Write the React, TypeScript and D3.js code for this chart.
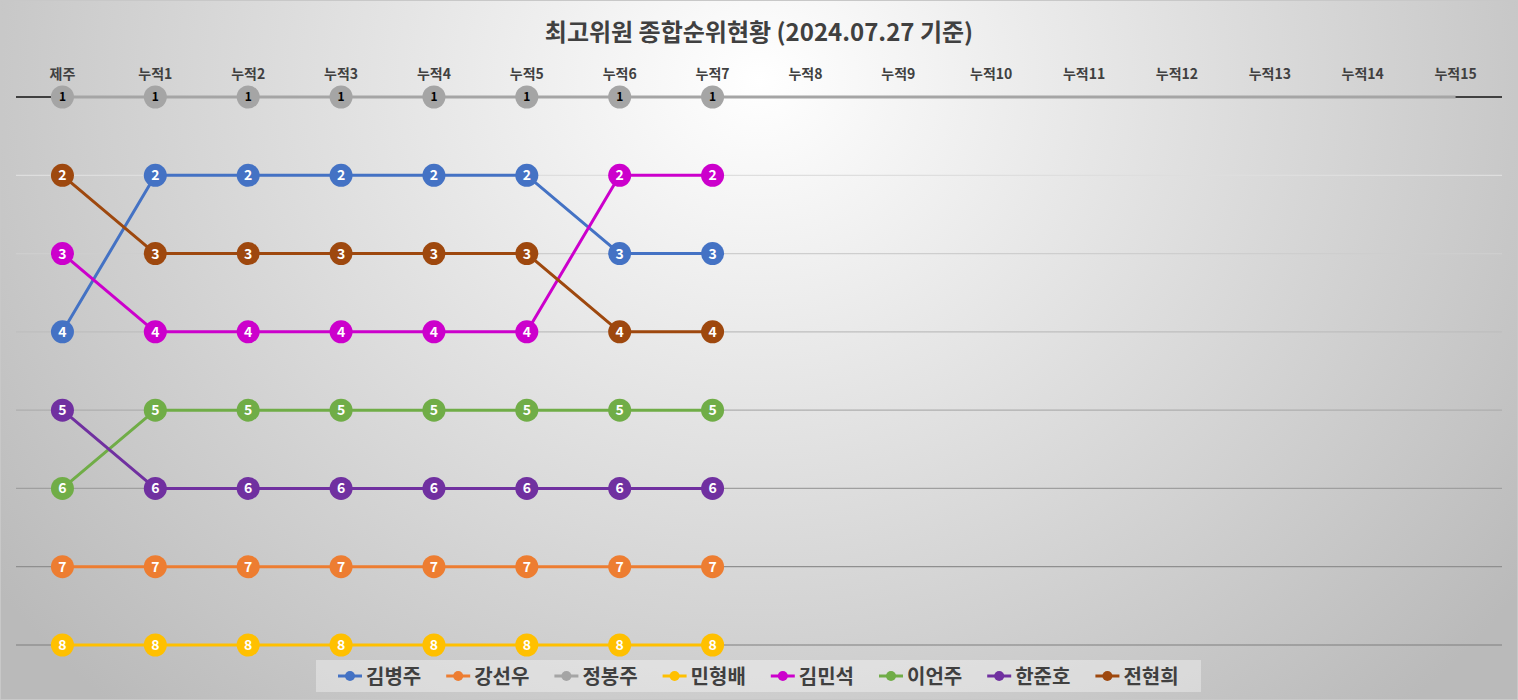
import React from 'react';
import * as d3 from 'd3';

const title = '최고위원 종합순위현황 (2024.07.27 기준)';
const categories = ['제주', '누적1', '누적2', '누적3', '누적4', '누적5', '누적6', '누적7', '누적8', '누적9', '누적10', '누적11', '누적12', '누적13', '누적14', '누적15'];
const names = ['김병주', '강선우', '정봉주', '민형배', '김민석', '이언주', '한준호', '전현희'];
const colors = ['#4472C4', '#ED7D31', '#A5A5A5', '#FFC000', '#CC00CC', '#70AD47', '#7030A0', '#9E480E'];

const kimByungjoo = [4, 2, 2, 2, 2, 2, 3, 3];
const kangSunwoo = [7, 7, 7, 7, 7, 7, 7, 7];
const jeongBongjoo = [1, 1, 1, 1, 1, 1, 1, 1, 1, 1, 1, 1, 1, 1, 1, 1];
const minHyungbae = [8, 8, 8, 8, 8, 8, 8, 8];
const kimMinseok = [3, 4, 4, 4, 4, 4, 2, 2];
const leeUnju = [6, 5, 5, 5, 5, 5, 5, 5];
const hanJunho = [5, 6, 6, 6, 6, 6, 6, 6];
const jeonHyunhee = [2, 3, 3, 3, 3, 3, 4, 4];

const seriesValues = [kimByungjoo, kangSunwoo, jeongBongjoo, minHyungbae, kimMinseok, leeUnju, hanJunho, jeonHyunhee];
const reportedRounds = 8;
const rankTicks = [1, 2, 3, 4, 5, 6, 7, 8];

const W = 1518;
const H = 700;
const FONT = '"Noto Sans CJK KR", "Malgun Gothic", sans-serif';

export default function App() {
  const x = d3.scaleBand<string>().domain(categories).range([16, 1502]).padding(0);
  const cx = (c: string) => (x(c) as number) + x.bandwidth() / 2;
  const y = d3.scaleLinear().domain([1, 8]).range([97, 645]);
  const gridColor = d3.scaleLinear<string>().domain([175, 645]).range(['#dedede', '#7f7f7f']);
  const line = d3
    .line<number>()
    .x((_, i) => cx(categories[i]))
    .y((d) => y(d));

  const legendStep = 108.2;
  const legendStart = 350;

  return (
    <svg
      width={W}
      height={H}
      style={{ position: 'absolute', left: 0, top: 0, display: 'block' }}
      fontFamily={FONT}
    >
      <defs>
        <radialGradient id="bg" gradientUnits="userSpaceOnUse" cx={759} cy={80} r={950}
          gradientTransform="translate(759 80) scale(1 0.9) translate(-759 -80)">
          <stop offset="0" stopColor="#ffffff" />
          <stop offset="1" stopColor="#bababa" />
        </radialGradient>
      </defs>
      <rect x={0} y={0} width={W} height={H} fill="url(#bg)" />
      <rect x={0.5} y={0.5} width={W - 1} height={H - 1} fill="none" stroke="#c8c8c8" />

      <text x={759} y={41} textAnchor="middle" fontSize={24} fontWeight="bold" fill="#404040">
        {title}
      </text>

      {categories.map((c) => (
        <text key={c} x={cx(c)} y={79} textAnchor="middle" fontSize={14} fontWeight="bold" fill="#404040">
          {c}
        </text>
      ))}

      {rankTicks.slice(1).map((r) => (
        <line key={r} x1={16} x2={1502} y1={y(r)} y2={y(r)} stroke={gridColor(y(r))} strokeWidth={1.2} />
      ))}
      <line x1={16} x2={1502} y1={y(1)} y2={y(1)} stroke="#404040" strokeWidth={2} />

      {seriesValues.map((vals, si) => (
        <g key={names[si]}>
          <path d={line(vals) as string} fill="none" stroke={colors[si]} strokeWidth={3} strokeLinejoin="round" />
          {vals.slice(0, reportedRounds).map((v, i) => (
            <g key={i} transform={`translate(${cx(categories[i])},${y(v)})`}>
              <circle r={11.5} fill={colors[si]} />
              <text
                y={0}
                dy="0.36em"
                textAnchor="middle"
                fontSize={si === 2 ? 12 : 14}
                fontWeight="bold"
                fill={si === 2 ? '#000000' : '#ffffff'}
              >
                {v}
              </text>
            </g>
          ))}
        </g>
      ))}

      <rect x={316} y={660} width={885} height={32} fill="#ffffff" fillOpacity={0.35} />
      {names.map((n, i) => {
        const mx = legendStart + i * legendStep;
        return (
          <g key={n}>
            <line x1={mx - 12} x2={mx + 12} y1={676} y2={676} stroke={colors[i]} strokeWidth={3} />
            <circle cx={mx} cy={676} r={5} fill={colors[i]} />
            <text x={mx + 16} y={684} fontSize={20} fontWeight="bold" fill="#404040">
              {n}
            </text>
          </g>
        );
      })}
    </svg>
  );
}
